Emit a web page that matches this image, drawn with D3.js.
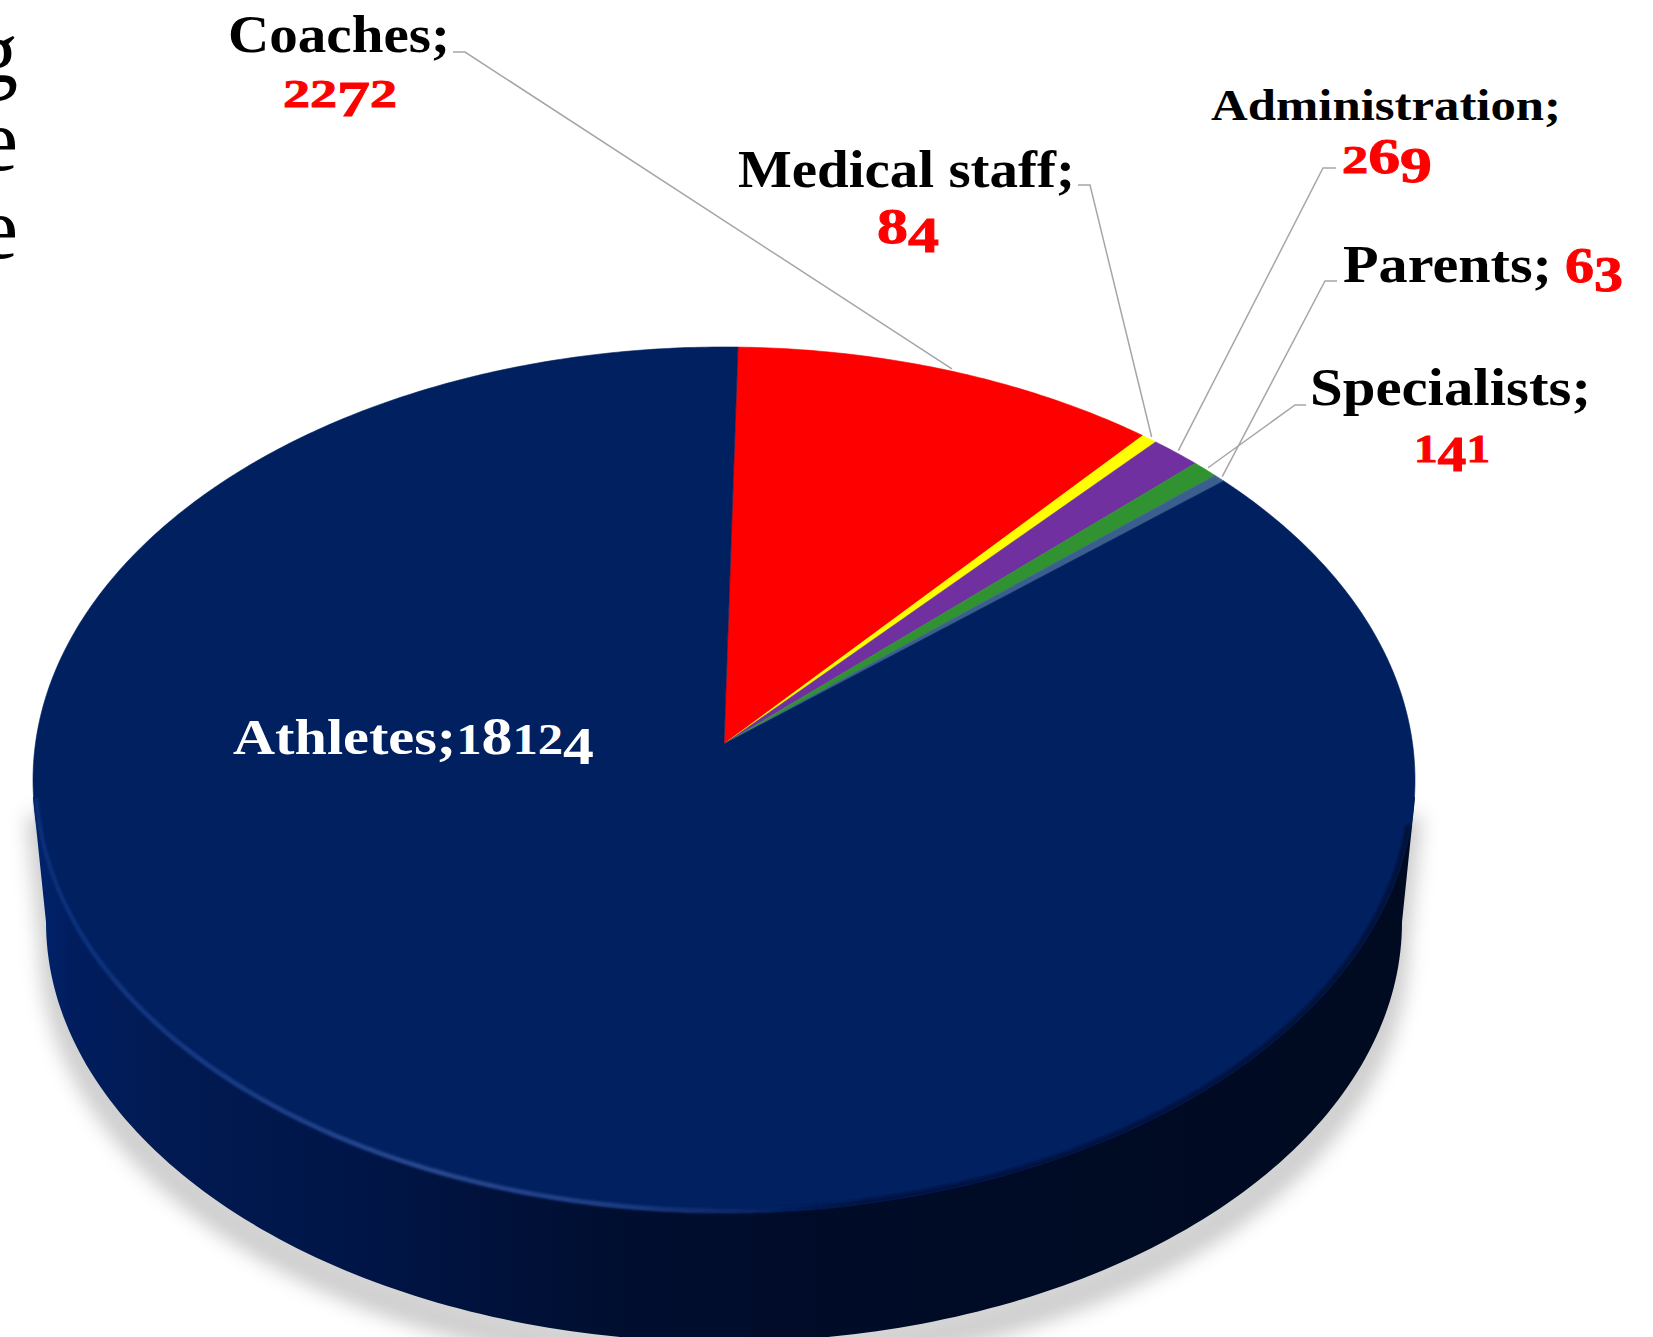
<!DOCTYPE html>
<html>
<head>
<meta charset="utf-8">
<script src="https://cdnjs.cloudflare.com/ajax/libs/d3/7.8.5/d3.min.js"></script>
<style>
  html, body { margin: 0; padding: 0; background: #fff; overflow: hidden; }
  text { font-family: "Liberation Serif", serif; font-weight: bold; }
</style>
</head>
<body>
<div id="chart"></div>
<script>
// values, clockwise from the top
var categories = ["Coaches", "Medical staff", "Administration", "Specialists", "Parents", "Athletes"];
var counts = [2272, 84, 269, 141, 63, 18124];
var colors = ["#ff0000", "#ffff00", "#7030a0", "#319232", "#3a5f8f", "#002060"];

// cut-off paragraph letters at the left edge of the slide
var strayLetters = ["g", "e", "e"];

var width = 1653, height = 1337;

// label placement: name box, value box, where the leader elbow sits
var labelLayout = {
  "Coaches":        {nx: 228,  nw: 222, ny: 52,  size: 52, vx: 283,  vw: 114, vy: 107, lx: 453,  elbow: 465,  ly: 52},
  "Medical staff":  {nx: 738,  nw: 337, ny: 187, size: 52, vx: 877,  vw: 62,  vy: 243, lx: 1078, elbow: 1090, ly: 185},
  "Administration": {nx: 1211, nw: 350, ny: 120, size: 45, vx: 1342, vw: 90,  vy: 173, lx: 1336, elbow: 1323, ly: 168},
  "Parents":        {nx: 1343, nw: 209, ny: 282, size: 52, vx: 1565, vw: 58,  vy: 282, lx: 1337, elbow: 1325, ly: 281},
  "Specialists":    {nx: 1310, nw: 281, ny: 405, size: 52, vx: 1414, vw: 76,  vy: 462, lx: 1306, elbow: 1295, ly: 405}
};

var svg = d3.select("#chart").append("svg")
    .attr("width", width)
    .attr("height", height)
    .style("display", "block");

var defs = svg.append("defs");

defs.append("filter").attr("id", "shadowBlur")
    .attr("x", "-10%").attr("y", "-10%").attr("width", "120%").attr("height", "120%")
  .append("feGaussianBlur").attr("stdDeviation", 10);

defs.append("filter").attr("id", "rimBlur")
    .attr("x", "-5%").attr("y", "-5%").attr("width", "110%").attr("height", "110%")
  .append("feGaussianBlur").attr("stdDeviation", 1.8);

var wallGrad = defs.append("linearGradient").attr("id", "wallGrad")
    .attr("gradientUnits", "userSpaceOnUse")
    .attr("x1", 30).attr("x2", 1415).attr("y1", 0).attr("y2", 0);
[[0, "#00246f"], [0.03, "#011d5e"], [0.1, "#011a52"], [0.25, "#001546"], [0.42, "#000e30"],
 [0.58, "#000b28"], [0.8, "#000b24"], [1, "#000a20"]].forEach(function(s) {
  wallGrad.append("stop").attr("offset", s[0]).attr("stop-color", s[1]);
});

var rimGrad = defs.append("linearGradient").attr("id", "rimGrad")
    .attr("gradientUnits", "userSpaceOnUse")
    .attr("x1", 30).attr("x2", 1415).attr("y1", 0).attr("y2", 0);
[[0, "#0a2f7c"], [0.28, "#2f4f96"], [0.42, "#24438a"], [0.54, "#05205c"],
 [0.6, "#00113a"], [1, "#000c2c"]].forEach(function(s) {
  rimGrad.append("stop").attr("offset", s[0]).attr("stop-color", s[1]);
});

// perspective view of the round top: centre of the pie sits above the ellipse centre
var apexX = 724, apexY = 744, spreadX = 688.6, spreadY = 430, tilt = 0.0831;

function project(angle, r) {
  var u = r * Math.sin(angle), v = -r * Math.cos(angle);
  var w = 1 - tilt * v;
  return [apexX + spreadX * u / w, apexY + spreadY * v / w];
}

function sweep(a0, a1, r) {
  var n = Math.max(2, Math.ceil(Math.abs(a1 - a0) / 0.01));
  return d3.range(n + 1).map(function(i) {
    return project(a0 + (a1 - a0) * i / n, r);
  });
}

var rotation = 1.26 * Math.PI / 180;
var pie = d3.pie().sort(null).value(function(d) { return d.count; })
    .startAngle(rotation).endAngle(rotation + 2 * Math.PI);

var slices = pie(categories.map(function(c, i) {
  return {name: c, count: counts[i], color: colors[i]};
}));

var line = d3.line();

// underside of the disc
var baseX = 724, baseY = 922, baseRx = 678, baseRy = 420;
function basePoint(t) {
  return [baseX + baseRx * Math.cos(t), baseY + baseRy * Math.sin(t)];
}
var baseEdge = d3.range(0, 181, 1).map(function(deg) { return basePoint(deg * Math.PI / 180); });

// the wall starts a little under the widest point of the top
var sideX = spreadX / Math.sqrt(1 - tilt * tilt), sideY = 797;
var wallOutline = [[apexX + sideX, sideY]].concat(baseEdge, [[apexX - sideX, sideY]]);

// shadow
svg.append("path")
    .attr("d", line(wallOutline) + "Z")
    .attr("transform", "translate(0,24)")
    .attr("fill", "#000")
    .attr("fill-opacity", 0.16)
    .attr("stroke", "#000")
    .attr("stroke-opacity", 0.16)
    .attr("stroke-width", 12)
    .attr("filter", "url(#shadowBlur)");

// wall
svg.append("path")
    .attr("d", line(wallOutline) + "Z")
    .attr("fill", "url(#wallGrad)");

// top
svg.selectAll(".slice")
  .data(slices)
  .enter().append("path")
    .attr("class", "slice")
    .attr("fill", function(d) { return d.data.color; })
    .attr("stroke", function(d) { return d.data.color; })
    .attr("stroke-width", 0.6)
    .attr("d", function(d) {
      return line([[apexX, apexY]].concat(sweep(d.startAngle, d.endAngle, 1))) + "Z";
    });

// rim light along the front edge
svg.append("path")
    .attr("d", line(sweep(Math.PI * 0.56, Math.PI * 1.46, 0.996)))
    .attr("fill", "none")
    .attr("stroke", "url(#rimGrad)")
    .attr("stroke-width", 4)
    .attr("filter", "url(#rimBlur)");

// leaders
svg.selectAll(".leader")
  .data(slices.filter(function(d) { return labelLayout[d.data.name]; }))
  .enter().append("path")
    .attr("class", "leader")
    .attr("fill", "none")
    .attr("stroke", "#a6a6a6")
    .attr("stroke-width", 1.5)
    .attr("d", function(d) {
      var p = labelLayout[d.data.name];
      var tip = project((d.startAngle + d.endAngle) / 2, 1.006);
      return line([[p.lx, p.ly], [p.elbow, p.ly], tip]);
    });

// the slide font has old-style figures, so each digit gets its own size and drop
function oldStyle(sel, value, scale) {
  var shift = 0;
  String(value).split("").forEach(function(ch) {
    var drop = "34579".indexOf(ch) >= 0 ? 9 * scale : 0;
    var size = "012".indexOf(ch) >= 0 ? 41 : 50;
    sel.append("tspan")
        .attr("dy", drop - shift)
        .attr("font-size", size * scale)
        .text(ch);
    shift = drop;
  });
}

// labels
var labelled = svg.selectAll(".label")
  .data(slices.filter(function(d) { return labelLayout[d.data.name]; }))
  .enter().append("g")
    .attr("class", "label");

labelled.append("text")
    .attr("x", function(d) { return labelLayout[d.data.name].nx; })
    .attr("y", function(d) { return labelLayout[d.data.name].ny; })
    .attr("textLength", function(d) { return labelLayout[d.data.name].nw; })
    .attr("lengthAdjust", "spacingAndGlyphs")
    .attr("font-size", function(d) { return labelLayout[d.data.name].size; })
    .attr("fill", "#000")
    .text(function(d) { return d.data.name + ";"; });

labelled.append("text")
    .attr("x", function(d) { return labelLayout[d.data.name].vx; })
    .attr("y", function(d) { return labelLayout[d.data.name].vy; })
    .attr("textLength", function(d) { return labelLayout[d.data.name].vw; })
    .attr("lengthAdjust", "spacingAndGlyphs")
    .attr("fill", "#ff0000")
    .attr("stroke", "#ff0000")
    .attr("stroke-width", 0.9)
    .each(function(d) { oldStyle(d3.select(this), d.data.count, 1); });

// the big slice carries its label inside
var big = slices[slices.length - 1];
var bigLabel = svg.append("text")
    .attr("x", 233)
    .attr("y", 754)
    .attr("textLength", 361)
    .attr("lengthAdjust", "spacingAndGlyphs")
    .attr("font-size", 50)
    .attr("fill", "#fff");
bigLabel.append("tspan").text(big.data.name + ";");
oldStyle(bigLabel, big.data.count, 1.06);

svg.selectAll(".stray")
  .data(strayLetters)
  .enter().append("text")
    .attr("class", "stray")
    .attr("x", 18)
    .attr("y", function(d, i) { return 82 + i * 88; })
    .attr("text-anchor", "end")
    .attr("font-size", 88)
    .style("font-weight", "normal")
    .attr("fill", "#000")
    .text(function(d) { return d; });
</script>
</body>
</html>
